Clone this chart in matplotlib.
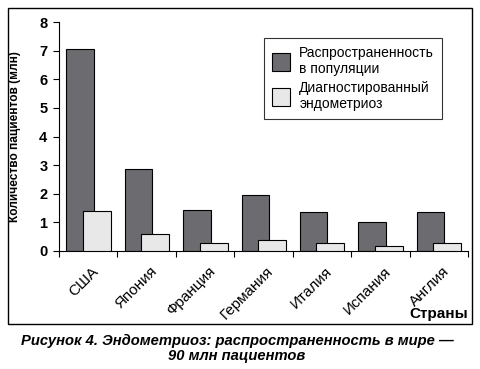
import matplotlib
matplotlib.use('Agg')
import matplotlib.pyplot as plt
from matplotlib.patches import Rectangle
from matplotlib.transforms import ScaledTranslation
import numpy as np

plt.rcParams['font.family'] = ['Liberation Sans', 'DejaVu Sans']

# данные
countries = ['США', 'Япония', 'Франция', 'Германия', 'Италия', 'Испания', 'Англия']
prevalence = [7.05, 2.86, 1.43, 1.95, 1.36, 1.01, 1.36]
diagnosed = [1.40, 0.59, 0.27, 0.37, 0.27, 0.16, 0.27]
labels = ['Распространенность\nв популяции', 'Диагностированный\nэндометриоз']

fig = plt.figure(figsize=(4.8, 3.69), dpi=100)
W, H = 480, 369

# рамка вокруг рисунка
fig.patches.append(Rectangle((7.5 / W, 1 - 324 / H), (472 - 7.5) / W, (324 - 8) / H,
                             transform=fig.transFigure, fill=False,
                             edgecolor='black', linewidth=1.0))

ax = fig.add_axes([59 / W, 1 - 251 / H, (468 - 59) / W, (251 - 22) / H])
x = np.arange(len(countries))
ax.bar(x - 0.14, prevalence, width=0.47, color='#6b6b70',
       edgecolor='black', linewidth=0.8, zorder=2, label=labels[0])
ax.bar(x + 0.145, diagnosed, width=0.48, color='#e8e8e8',
       edgecolor='black', linewidth=0.8, zorder=3, label=labels[1])

ax.set_xlim(-0.5, len(countries) - 0.5)
ax.set_ylim(0, 8)
ax.set_yticks(range(0, 9))
ax.set_yticklabels([str(i) for i in range(0, 9)], fontsize=10.5, fontweight='bold')
ax.tick_params(axis='y', length=4.3, width=0.8, pad=4, direction='out')

ax.set_xticks(x)
ax.set_xticklabels(countries, rotation=45, ha='right', va='center',
                   rotation_mode='anchor', fontsize=11)
ax.tick_params(axis='x', which='major', length=0, pad=13)
ax.set_xticks(np.arange(-0.5, len(countries)), minor=True)
ax.tick_params(axis='x', which='minor', length=4.3, width=0.8, direction='out')
shift = ScaledTranslation(0.08, 0, fig.dpi_scale_trans)
for lab in ax.get_xticklabels():
    lab.set_transform(lab.get_transform() + shift)

for s in ['top', 'right']:
    ax.spines[s].set_visible(False)
for s in ['left', 'bottom']:
    ax.spines[s].set_linewidth(0.8)

ax.set_ylabel('Количество пациентов (млн)', fontsize=8.6, fontweight='bold')
ax.yaxis.set_label_coords(-0.092, 0.5)

leg = ax.legend(loc='upper left', bbox_to_anchor=(0.501, 0.93), borderaxespad=0,
                fontsize=10, frameon=True, fancybox=False, edgecolor='black',
                handlelength=1.35, handleheight=1.6, labelspacing=0.38,
                handletextpad=0.65, borderpad=0.55)
leg.get_frame().set_linewidth(0.8)

fig.text(468 / W, 1 - 314 / H, 'Страны', ha='right', va='center',
         fontsize=11, fontweight='bold')

fig.text(237 / W, 1 - 341 / H, 'Рисунок 4. Эндометриоз: распространенность в мире —',
         ha='center', va='center', fontsize=10.65, fontweight='bold', style='italic')
fig.text(237 / W, 1 - 356 / H, '90 млн пациентов',
         ha='center', va='center', fontsize=10.65, fontweight='bold', style='italic')

fig.savefig('out.png', dpi=100)
